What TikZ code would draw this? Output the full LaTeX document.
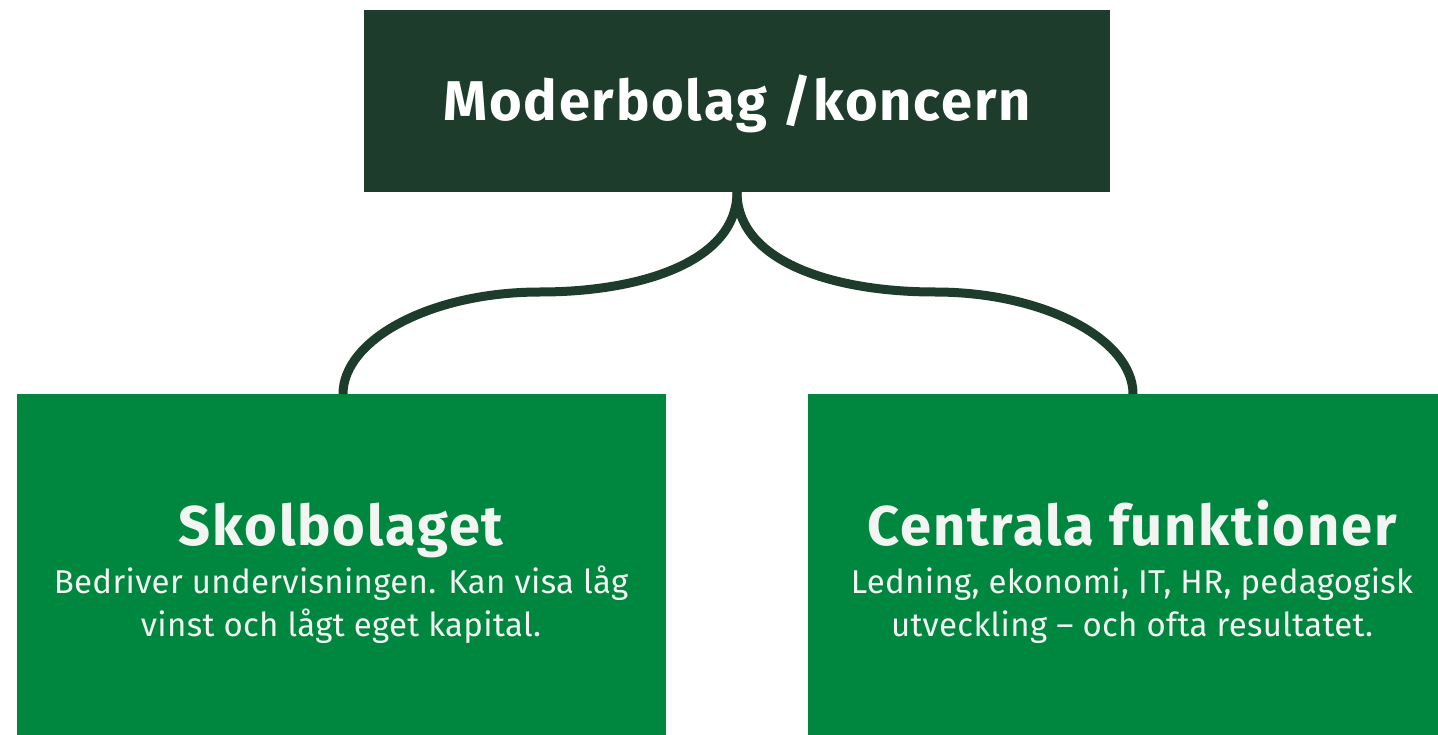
\documentclass[tikz,border=0pt]{standalone}
\usepackage{fontspec}
\setmainfont{Fira Sans}
\newfontfamily\headfont[LetterSpace=3.3]{Fira Sans}
\newfontfamily\bodyfont[LetterSpace=1]{Fira Sans}
\definecolor{darkgreen}{HTML}{1D3C2B}
\definecolor{midgreen}{HTML}{00873F}
\definecolor{offwhite}{HTML}{F2F5F2}
\tikzset{
  box/.style={inner sep=0pt, outer sep=0pt, anchor=north west},
  headtext/.style={font=\headfont\fontsize{56}{62}\selectfont\bfseries, text=white, anchor=base},
  titletext/.style={font=\headfont\fontsize{56}{62}\selectfont\bfseries, text=offwhite, anchor=base},
  bodytext/.style={font=\bodyfont\fontsize{33}{43}\selectfont, text=offwhite, anchor=base, align=center},
  link/.style={draw=darkgreen, line width=9pt}
}
\begin{document}
\begin{tikzpicture}[x=1pt,y=-1pt]
\useasboundingbox (0,0) rectangle (1438,735);
\fill[white] (0,0) rectangle (1438,735);
% boxes
\node[box, fill=darkgreen, minimum width=746pt, minimum height=182pt] (top) at (364,10) {};
\node[box, fill=midgreen, minimum width=649pt, minimum height=341pt] (left) at (17,394) {};
\node[box, fill=midgreen, minimum width=650pt, minimum height=341pt] (right) at (808,394) {};
% connectors
\coordinate (topb) at (737,192);
\coordinate (lmid) at (540,292);
\coordinate (rmid) at (935,292);
\coordinate (lend) at (343,394);
\coordinate (rend) at (1133,394);
\draw[link] (topb) .. controls (737,262) and (640,292) .. (lmid)
            .. controls (430,292) and (343,340) .. (lend);
\draw[link] (topb) .. controls (737,262) and (834,292) .. (rmid)
            .. controls (1045,292) and (1133,340) .. (rend);
% texts
\node[headtext] (toptext) at (737,121) {Moderbolag /koncern};
\node[titletext] (ltitle) at (341,545) {Skolbolaget};
\node[bodytext] (lbody1) at (341,593) {Bedriver undervisningen. Kan visa låg};
\node[bodytext] (lbody2) at (341,636) {vinst och lågt eget kapital.};
\node[titletext] (rtitle) at (1132,545) {Centrala funktioner};
\node[bodytext] (rbody1) at (1132,593) {Ledning, ekonomi, IT, HR, pedagogisk};
\node[bodytext] (rbody2) at (1132,636) {utveckling – och ofta resultatet.};
\end{tikzpicture}
\end{document}
